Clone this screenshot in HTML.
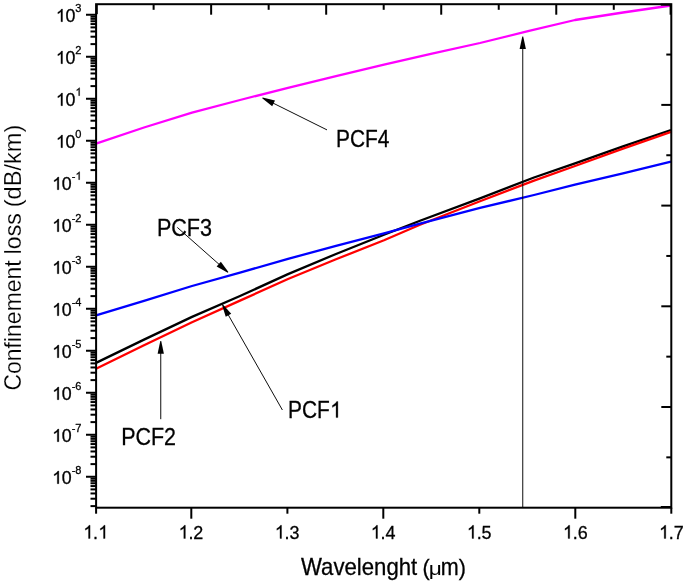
<!DOCTYPE html>
<html><head><meta charset="utf-8"><title>Confinement loss</title>
<style>html,body{margin:0;padding:0;background:#fff;}body{width:685px;height:583px;overflow:hidden;}svg{display:block;}text{font-family:"Liberation Sans",sans-serif;fill:#000;}</style>
</head><body>
<svg width="685" height="583" viewBox="0 0 685 583">
<rect x="0" y="0" width="685" height="583" fill="#fff"/>
<polyline points="96.0,362.9 144.0,339.6 192.0,316.9 240.0,296.0 288.0,274.1 336.0,254.0 384.0,234.8 420.0,220.8 480.0,198.3 534.0,177.5 575.0,163.4 623.0,146.4 671.0,130.0" fill="none" stroke="#000000" stroke-width="2.3" stroke-linejoin="round"/>
<polyline points="96.0,368.8 144.0,345.3 192.0,322.2 240.0,300.6 288.0,279.0 336.0,259.3 384.0,240.2 420.0,224.8 480.0,201.3 534.0,180.6 575.0,166.0 623.0,148.7 671.0,131.8" fill="none" stroke="#ff0000" stroke-width="2.3" stroke-linejoin="round"/>
<polyline points="96.0,315.4 144.0,300.9 192.0,286.0 240.0,272.6 288.0,258.9 336.0,245.8 384.0,233.4 420.0,223.6 480.0,207.9 534.0,195.0 575.0,184.6 623.0,173.3 671.0,161.6" fill="none" stroke="#0000ff" stroke-width="2.3" stroke-linejoin="round"/>
<polyline points="96.0,143.6 144.0,127.5 192.0,112.7 240.0,100.0 288.0,87.8 336.0,76.2 384.0,64.7 432.0,53.6 480.0,43.0 528.0,31.2 575.0,20.0 623.0,12.5 671.0,5.5" fill="none" stroke="#ff00ff" stroke-width="2.3" stroke-linejoin="round"/>
<g stroke="#000" stroke-width="2" fill="none" stroke-linecap="butt">
<rect x="96.1" y="4.2" width="575.2" height="503.5"/>
<line x1="86" y1="14.75" x2="96.1" y2="14.75"/>
<line x1="86" y1="56.75" x2="96.1" y2="56.75"/>
<line x1="90.5" y1="44.11" x2="96.1" y2="44.11"/>
<line x1="90.5" y1="36.71" x2="96.1" y2="36.71"/>
<line x1="90.5" y1="31.46" x2="96.1" y2="31.46"/>
<line x1="90.5" y1="27.39" x2="96.1" y2="27.39"/>
<line x1="90.5" y1="24.07" x2="96.1" y2="24.07"/>
<line x1="90.5" y1="21.26" x2="96.1" y2="21.26"/>
<line x1="90.5" y1="18.82" x2="96.1" y2="18.82"/>
<line x1="90.5" y1="16.67" x2="96.1" y2="16.67"/>
<line x1="86" y1="98.75" x2="96.1" y2="98.75"/>
<line x1="90.5" y1="86.11" x2="96.1" y2="86.11"/>
<line x1="90.5" y1="78.71" x2="96.1" y2="78.71"/>
<line x1="90.5" y1="73.46" x2="96.1" y2="73.46"/>
<line x1="90.5" y1="69.39" x2="96.1" y2="69.39"/>
<line x1="90.5" y1="66.07" x2="96.1" y2="66.07"/>
<line x1="90.5" y1="63.26" x2="96.1" y2="63.26"/>
<line x1="90.5" y1="60.82" x2="96.1" y2="60.82"/>
<line x1="90.5" y1="58.67" x2="96.1" y2="58.67"/>
<line x1="86" y1="140.75" x2="96.1" y2="140.75"/>
<line x1="90.5" y1="128.11" x2="96.1" y2="128.11"/>
<line x1="90.5" y1="120.71" x2="96.1" y2="120.71"/>
<line x1="90.5" y1="115.46" x2="96.1" y2="115.46"/>
<line x1="90.5" y1="111.39" x2="96.1" y2="111.39"/>
<line x1="90.5" y1="108.07" x2="96.1" y2="108.07"/>
<line x1="90.5" y1="105.26" x2="96.1" y2="105.26"/>
<line x1="90.5" y1="102.82" x2="96.1" y2="102.82"/>
<line x1="90.5" y1="100.67" x2="96.1" y2="100.67"/>
<line x1="86" y1="182.75" x2="96.1" y2="182.75"/>
<line x1="90.5" y1="170.11" x2="96.1" y2="170.11"/>
<line x1="90.5" y1="162.71" x2="96.1" y2="162.71"/>
<line x1="90.5" y1="157.46" x2="96.1" y2="157.46"/>
<line x1="90.5" y1="153.39" x2="96.1" y2="153.39"/>
<line x1="90.5" y1="150.07" x2="96.1" y2="150.07"/>
<line x1="90.5" y1="147.26" x2="96.1" y2="147.26"/>
<line x1="90.5" y1="144.82" x2="96.1" y2="144.82"/>
<line x1="90.5" y1="142.67" x2="96.1" y2="142.67"/>
<line x1="86" y1="224.75" x2="96.1" y2="224.75"/>
<line x1="90.5" y1="212.11" x2="96.1" y2="212.11"/>
<line x1="90.5" y1="204.71" x2="96.1" y2="204.71"/>
<line x1="90.5" y1="199.46" x2="96.1" y2="199.46"/>
<line x1="90.5" y1="195.39" x2="96.1" y2="195.39"/>
<line x1="90.5" y1="192.07" x2="96.1" y2="192.07"/>
<line x1="90.5" y1="189.26" x2="96.1" y2="189.26"/>
<line x1="90.5" y1="186.82" x2="96.1" y2="186.82"/>
<line x1="90.5" y1="184.67" x2="96.1" y2="184.67"/>
<line x1="86" y1="266.75" x2="96.1" y2="266.75"/>
<line x1="90.5" y1="254.11" x2="96.1" y2="254.11"/>
<line x1="90.5" y1="246.71" x2="96.1" y2="246.71"/>
<line x1="90.5" y1="241.46" x2="96.1" y2="241.46"/>
<line x1="90.5" y1="237.39" x2="96.1" y2="237.39"/>
<line x1="90.5" y1="234.07" x2="96.1" y2="234.07"/>
<line x1="90.5" y1="231.26" x2="96.1" y2="231.26"/>
<line x1="90.5" y1="228.82" x2="96.1" y2="228.82"/>
<line x1="90.5" y1="226.67" x2="96.1" y2="226.67"/>
<line x1="86" y1="308.75" x2="96.1" y2="308.75"/>
<line x1="90.5" y1="296.11" x2="96.1" y2="296.11"/>
<line x1="90.5" y1="288.71" x2="96.1" y2="288.71"/>
<line x1="90.5" y1="283.46" x2="96.1" y2="283.46"/>
<line x1="90.5" y1="279.39" x2="96.1" y2="279.39"/>
<line x1="90.5" y1="276.07" x2="96.1" y2="276.07"/>
<line x1="90.5" y1="273.26" x2="96.1" y2="273.26"/>
<line x1="90.5" y1="270.82" x2="96.1" y2="270.82"/>
<line x1="90.5" y1="268.67" x2="96.1" y2="268.67"/>
<line x1="86" y1="350.75" x2="96.1" y2="350.75"/>
<line x1="90.5" y1="338.11" x2="96.1" y2="338.11"/>
<line x1="90.5" y1="330.71" x2="96.1" y2="330.71"/>
<line x1="90.5" y1="325.46" x2="96.1" y2="325.46"/>
<line x1="90.5" y1="321.39" x2="96.1" y2="321.39"/>
<line x1="90.5" y1="318.07" x2="96.1" y2="318.07"/>
<line x1="90.5" y1="315.26" x2="96.1" y2="315.26"/>
<line x1="90.5" y1="312.82" x2="96.1" y2="312.82"/>
<line x1="90.5" y1="310.67" x2="96.1" y2="310.67"/>
<line x1="86" y1="392.75" x2="96.1" y2="392.75"/>
<line x1="90.5" y1="380.11" x2="96.1" y2="380.11"/>
<line x1="90.5" y1="372.71" x2="96.1" y2="372.71"/>
<line x1="90.5" y1="367.46" x2="96.1" y2="367.46"/>
<line x1="90.5" y1="363.39" x2="96.1" y2="363.39"/>
<line x1="90.5" y1="360.07" x2="96.1" y2="360.07"/>
<line x1="90.5" y1="357.26" x2="96.1" y2="357.26"/>
<line x1="90.5" y1="354.82" x2="96.1" y2="354.82"/>
<line x1="90.5" y1="352.67" x2="96.1" y2="352.67"/>
<line x1="86" y1="434.75" x2="96.1" y2="434.75"/>
<line x1="90.5" y1="422.11" x2="96.1" y2="422.11"/>
<line x1="90.5" y1="414.71" x2="96.1" y2="414.71"/>
<line x1="90.5" y1="409.46" x2="96.1" y2="409.46"/>
<line x1="90.5" y1="405.39" x2="96.1" y2="405.39"/>
<line x1="90.5" y1="402.07" x2="96.1" y2="402.07"/>
<line x1="90.5" y1="399.26" x2="96.1" y2="399.26"/>
<line x1="90.5" y1="396.82" x2="96.1" y2="396.82"/>
<line x1="90.5" y1="394.67" x2="96.1" y2="394.67"/>
<line x1="86" y1="476.75" x2="96.1" y2="476.75"/>
<line x1="90.5" y1="464.11" x2="96.1" y2="464.11"/>
<line x1="90.5" y1="456.71" x2="96.1" y2="456.71"/>
<line x1="90.5" y1="451.46" x2="96.1" y2="451.46"/>
<line x1="90.5" y1="447.39" x2="96.1" y2="447.39"/>
<line x1="90.5" y1="444.07" x2="96.1" y2="444.07"/>
<line x1="90.5" y1="441.26" x2="96.1" y2="441.26"/>
<line x1="90.5" y1="438.82" x2="96.1" y2="438.82"/>
<line x1="90.5" y1="436.67" x2="96.1" y2="436.67"/>
<line x1="90.5" y1="506.11" x2="96.1" y2="506.11"/>
<line x1="90.5" y1="498.71" x2="96.1" y2="498.71"/>
<line x1="90.5" y1="493.46" x2="96.1" y2="493.46"/>
<line x1="90.5" y1="489.39" x2="96.1" y2="489.39"/>
<line x1="90.5" y1="486.07" x2="96.1" y2="486.07"/>
<line x1="90.5" y1="483.26" x2="96.1" y2="483.26"/>
<line x1="90.5" y1="480.82" x2="96.1" y2="480.82"/>
<line x1="90.5" y1="478.67" x2="96.1" y2="478.67"/>
<line x1="96.10" y1="507.7" x2="96.10" y2="513.7"/>
<line x1="191.30" y1="507.7" x2="191.30" y2="518.7"/>
<line x1="287.40" y1="507.7" x2="287.40" y2="513.7"/>
<line x1="383.30" y1="507.7" x2="383.30" y2="518.7"/>
<line x1="479.30" y1="507.7" x2="479.30" y2="513.7"/>
<line x1="575.30" y1="507.7" x2="575.30" y2="518.7"/>
<line x1="671.30" y1="507.7" x2="671.30" y2="513.7"/>
<line x1="153.62" y1="4.2" x2="153.62" y2="9.8"/>
<line x1="211.14" y1="4.2" x2="211.14" y2="14.7"/>
<line x1="268.66" y1="4.2" x2="268.66" y2="9.8"/>
<line x1="326.18" y1="4.2" x2="326.18" y2="14.7"/>
<line x1="383.70" y1="4.2" x2="383.70" y2="9.8"/>
<line x1="441.22" y1="4.2" x2="441.22" y2="14.7"/>
<line x1="498.74" y1="4.2" x2="498.74" y2="9.8"/>
<line x1="556.26" y1="4.2" x2="556.26" y2="14.7"/>
<line x1="613.78" y1="4.2" x2="613.78" y2="9.8"/>
<line x1="670.5999999999999" y1="4.2" x2="670.5999999999999" y2="14.7"/>
<line x1="96.8" y1="4.2" x2="96.8" y2="14.2"/>
<line x1="671.3" y1="4.7" x2="660.8" y2="4.7"/>
<line x1="671.3" y1="507.0" x2="660.8" y2="507.0"/>
<line x1="671.3" y1="54.55" x2="666.3" y2="54.55"/>
<line x1="671.3" y1="104.90" x2="661.3" y2="104.90"/>
<line x1="671.3" y1="155.25" x2="666.3" y2="155.25"/>
<line x1="671.3" y1="205.60" x2="661.3" y2="205.60"/>
<line x1="671.3" y1="255.95" x2="666.3" y2="255.95"/>
<line x1="671.3" y1="306.30" x2="661.3" y2="306.30"/>
<line x1="671.3" y1="356.65" x2="666.3" y2="356.65"/>
<line x1="671.3" y1="407.00" x2="661.3" y2="407.00"/>
<line x1="671.3" y1="457.35" x2="666.3" y2="457.35"/>
</g>
<line x1="522.76" y1="507.70" x2="522.76" y2="47.90" stroke="#000" stroke-width="0.95"/>
<polygon points="523.21,36.60 525.91,48.90 519.61,48.90 522.31,36.60" fill="#000"/>
<line x1="327.00" y1="129.90" x2="272.70" y2="102.92" stroke="#000" stroke-width="0.95"/>
<polygon points="262.60,97.40 275.00,100.54 272.19,106.18 262.20,98.20" fill="#000"/>
<line x1="177.30" y1="227.40" x2="219.48" y2="264.68" stroke="#000" stroke-width="0.95"/>
<polygon points="227.80,272.64 216.65,266.38 220.82,261.66 228.40,271.96" fill="#000"/>
<line x1="282.40" y1="410.00" x2="227.99" y2="314.39" stroke="#000" stroke-width="0.95"/>
<polygon points="222.69,304.18 231.22,313.71 225.75,316.82 221.91,304.62" fill="#000"/>
<line x1="160.76" y1="419.20" x2="160.76" y2="352.70" stroke="#000" stroke-width="0.95"/>
<polygon points="161.21,341.00 163.91,353.70 157.61,353.70 160.31,341.00" fill="#000"/>
<g opacity="0.999" stroke="#000" stroke-width="0.3">
<text transform="translate(121.20,444.50) scale(0.925,1)" font-size="23.2">PCF2</text>
<text transform="translate(288.00,417.60) scale(0.9,1)" font-size="23.2">PCF</text>
<path transform="translate(330.11,417.60) scale(0.010195,-0.010988)" d="M763 0h-180v1147q-65 -62 -170.5 -124t-189.5 -93v174q151 71 264 172t160 196h116v-1472z" vector-effect="non-scaling-stroke"/>
<text transform="translate(156.90,235.80) scale(0.93,1)" font-size="23.2">PCF3</text>
<text transform="translate(336.00,147.00) scale(0.9,1)" font-size="23.2">PCF4</text>
<path transform="translate(83.39,538.50) scale(0.008776,-0.008999)" d="M763 0h-180v1147q-65 -62 -170.5 -124t-189.5 -93v174q151 71 264 172t160 196h116v-1472z" vector-effect="non-scaling-stroke"/>
<text transform="translate(93.10,538.50) scale(0.946,1)" font-size="19">.</text>
<path transform="translate(98.38,538.50) scale(0.008776,-0.008999)" d="M763 0h-180v1147q-65 -62 -170.5 -124t-189.5 -93v174q151 71 264 172t160 196h116v-1472z" vector-effect="non-scaling-stroke"/>
<path transform="translate(178.68,538.50) scale(0.008776,-0.008999)" d="M763 0h-180v1147q-65 -62 -170.5 -124t-189.5 -93v174q151 71 264 172t160 196h116v-1472z" vector-effect="non-scaling-stroke"/>
<text transform="translate(188.38,538.50) scale(0.946,1)" font-size="19">.2</text>
<path transform="translate(274.86,538.50) scale(0.008776,-0.008999)" d="M763 0h-180v1147q-65 -62 -170.5 -124t-189.5 -93v174q151 71 264 172t160 196h116v-1472z" vector-effect="non-scaling-stroke"/>
<text transform="translate(284.57,538.50) scale(0.946,1)" font-size="19">.3</text>
<path transform="translate(370.84,538.50) scale(0.008776,-0.008999)" d="M763 0h-180v1147q-65 -62 -170.5 -124t-189.5 -93v174q151 71 264 172t160 196h116v-1472z" vector-effect="non-scaling-stroke"/>
<text transform="translate(380.55,538.50) scale(0.946,1)" font-size="19">.4</text>
<path transform="translate(466.93,538.50) scale(0.008776,-0.008999)" d="M763 0h-180v1147q-65 -62 -170.5 -124t-189.5 -93v174q151 71 264 172t160 196h116v-1472z" vector-effect="non-scaling-stroke"/>
<text transform="translate(476.63,538.50) scale(0.946,1)" font-size="19">.5</text>
<path transform="translate(563.01,538.50) scale(0.008776,-0.008999)" d="M763 0h-180v1147q-65 -62 -170.5 -124t-189.5 -93v174q151 71 264 172t160 196h116v-1472z" vector-effect="non-scaling-stroke"/>
<text transform="translate(572.72,538.50) scale(0.946,1)" font-size="19">.6</text>
<path transform="translate(659.09,538.50) scale(0.008776,-0.008999)" d="M763 0h-180v1147q-65 -62 -170.5 -124t-189.5 -93v174q151 71 264 172t160 196h116v-1472z" vector-effect="non-scaling-stroke"/>
<text transform="translate(668.80,538.50) scale(0.946,1)" font-size="19">.7</text>
<text transform="translate(75.35,11.70) scale(0.97,1)" font-size="11.4">3</text>
<path transform="translate(55.89,21.70) scale(0.008709,-0.008620)" d="M763 0h-180v1147q-65 -62 -170.5 -124t-189.5 -93v174q151 71 264 172t160 196h116v-1472z" vector-effect="non-scaling-stroke"/>
<text transform="translate(65.53,21.70) scale(0.98,1)" font-size="18.2">0</text>
<text transform="translate(75.35,53.70) scale(0.97,1)" font-size="11.4">2</text>
<path transform="translate(55.89,63.70) scale(0.008709,-0.008620)" d="M763 0h-180v1147q-65 -62 -170.5 -124t-189.5 -93v174q151 71 264 172t160 196h116v-1472z" vector-effect="non-scaling-stroke"/>
<text transform="translate(65.53,63.70) scale(0.98,1)" font-size="18.2">0</text>
<path transform="translate(75.52,95.70) scale(0.005399,-0.005399)" d="M763 0h-180v1147q-65 -62 -170.5 -124t-189.5 -93v174q151 71 264 172t160 196h116v-1472z" vector-effect="non-scaling-stroke"/>
<path transform="translate(55.89,105.70) scale(0.008709,-0.008620)" d="M763 0h-180v1147q-65 -62 -170.5 -124t-189.5 -93v174q151 71 264 172t160 196h116v-1472z" vector-effect="non-scaling-stroke"/>
<text transform="translate(65.53,105.70) scale(0.98,1)" font-size="18.2">0</text>
<text transform="translate(75.35,137.70) scale(0.97,1)" font-size="11.4">0</text>
<path transform="translate(55.89,147.70) scale(0.008709,-0.008620)" d="M763 0h-180v1147q-65 -62 -170.5 -124t-189.5 -93v174q151 71 264 172t160 196h116v-1472z" vector-effect="non-scaling-stroke"/>
<text transform="translate(65.53,147.70) scale(0.98,1)" font-size="18.2">0</text>
<text transform="translate(71.67,179.70) scale(0.97,1)" font-size="11.4">-</text>
<path transform="translate(75.52,179.70) scale(0.005399,-0.005399)" d="M763 0h-180v1147q-65 -62 -170.5 -124t-189.5 -93v174q151 71 264 172t160 196h116v-1472z" vector-effect="non-scaling-stroke"/>
<path transform="translate(52.21,189.70) scale(0.008709,-0.008620)" d="M763 0h-180v1147q-65 -62 -170.5 -124t-189.5 -93v174q151 71 264 172t160 196h116v-1472z" vector-effect="non-scaling-stroke"/>
<text transform="translate(61.85,189.70) scale(0.98,1)" font-size="18.2">0</text>
<text transform="translate(71.67,221.70) scale(0.97,1)" font-size="11.4">-2</text>
<path transform="translate(52.21,231.70) scale(0.008709,-0.008620)" d="M763 0h-180v1147q-65 -62 -170.5 -124t-189.5 -93v174q151 71 264 172t160 196h116v-1472z" vector-effect="non-scaling-stroke"/>
<text transform="translate(61.85,231.70) scale(0.98,1)" font-size="18.2">0</text>
<text transform="translate(71.67,263.70) scale(0.97,1)" font-size="11.4">-3</text>
<path transform="translate(52.21,273.70) scale(0.008709,-0.008620)" d="M763 0h-180v1147q-65 -62 -170.5 -124t-189.5 -93v174q151 71 264 172t160 196h116v-1472z" vector-effect="non-scaling-stroke"/>
<text transform="translate(61.85,273.70) scale(0.98,1)" font-size="18.2">0</text>
<text transform="translate(71.67,305.70) scale(0.97,1)" font-size="11.4">-4</text>
<path transform="translate(52.21,315.70) scale(0.008709,-0.008620)" d="M763 0h-180v1147q-65 -62 -170.5 -124t-189.5 -93v174q151 71 264 172t160 196h116v-1472z" vector-effect="non-scaling-stroke"/>
<text transform="translate(61.85,315.70) scale(0.98,1)" font-size="18.2">0</text>
<text transform="translate(71.67,347.70) scale(0.97,1)" font-size="11.4">-5</text>
<path transform="translate(52.21,357.70) scale(0.008709,-0.008620)" d="M763 0h-180v1147q-65 -62 -170.5 -124t-189.5 -93v174q151 71 264 172t160 196h116v-1472z" vector-effect="non-scaling-stroke"/>
<text transform="translate(61.85,357.70) scale(0.98,1)" font-size="18.2">0</text>
<text transform="translate(71.67,389.70) scale(0.97,1)" font-size="11.4">-6</text>
<path transform="translate(52.21,399.70) scale(0.008709,-0.008620)" d="M763 0h-180v1147q-65 -62 -170.5 -124t-189.5 -93v174q151 71 264 172t160 196h116v-1472z" vector-effect="non-scaling-stroke"/>
<text transform="translate(61.85,399.70) scale(0.98,1)" font-size="18.2">0</text>
<text transform="translate(71.67,431.70) scale(0.97,1)" font-size="11.4">-7</text>
<path transform="translate(52.21,441.70) scale(0.008709,-0.008620)" d="M763 0h-180v1147q-65 -62 -170.5 -124t-189.5 -93v174q151 71 264 172t160 196h116v-1472z" vector-effect="non-scaling-stroke"/>
<text transform="translate(61.85,441.70) scale(0.98,1)" font-size="18.2">0</text>
<text transform="translate(71.67,473.70) scale(0.97,1)" font-size="11.4">-8</text>
<path transform="translate(52.21,483.70) scale(0.008709,-0.008620)" d="M763 0h-180v1147q-65 -62 -170.5 -124t-189.5 -93v174q151 71 264 172t160 196h116v-1472z" vector-effect="non-scaling-stroke"/>
<text transform="translate(61.85,483.70) scale(0.98,1)" font-size="18.2">0</text>
<text transform="translate(301.0,574.7) scale(0.956,1)" font-size="23.2">Wavelenght</text>
<text transform="translate(422.4,575.3) scale(0.93,0.97)" font-size="23.2">(</text>
<text transform="translate(428.8,574.7) scale(1.23,1)" font-size="18.5" font-family="Liberation Serif" stroke="none">&#956;</text>
<text transform="translate(440.8,574.7) scale(0.93,1)" font-size="23.2">m</text>
<text transform="translate(458.8,575.3) scale(0.93,0.97)" font-size="23.2">)</text>
<g stroke="#fff" stroke-width="0.18">
<text transform="translate(20.6,390.5) rotate(-90) scale(0.99,1)" font-size="23.2">Confinement</text>
<text transform="translate(20.6,254.4) rotate(-90) scale(1,1)" font-size="23.2">loss</text>
<text transform="translate(20.6,207.3) rotate(-90) scale(1.019,1)" font-size="23.2">(dB/km)</text>
</g>
</g>
</svg></body></html>
